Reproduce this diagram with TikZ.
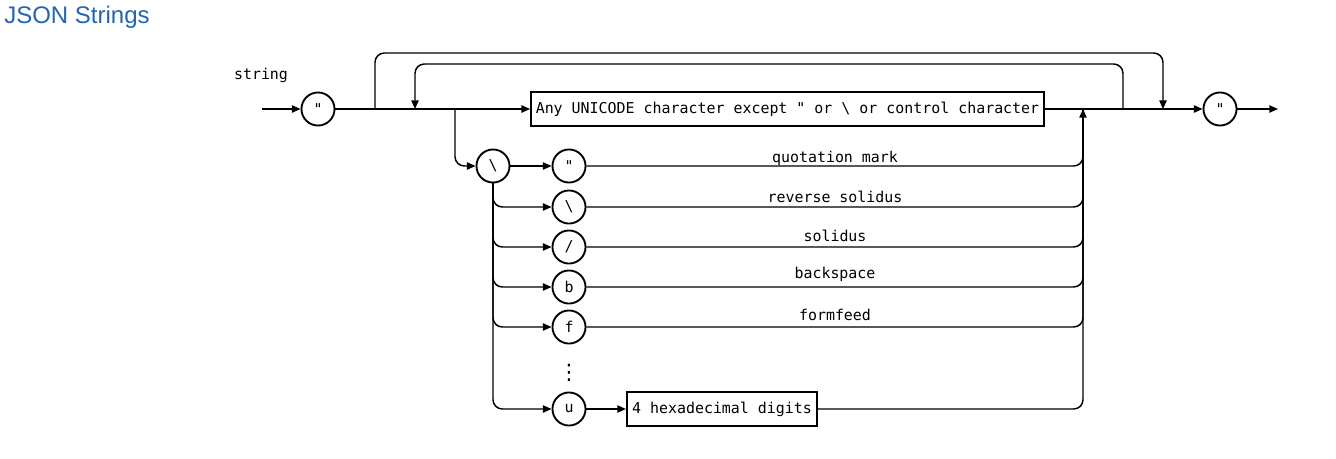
\documentclass[tikz,border=0pt]{standalone}
\usepackage{fontspec}
\setmainfont{Liberation Sans}
\setmonofont{DejaVu Sans Mono}
\newfontfamily\symfont{DejaVu Sans}
\usetikzlibrary{arrows.meta}
\definecolor{titleblue}{RGB}{35,100,180}
\begin{document}
\begin{tikzpicture}[x=0.75pt,y=-0.75pt,
  every node/.style={font=\ttfamily\fontsize{11.2}{13}\selectfont},
  conn/.style={line width=1.1pt},
  arr/.style={conn,-{Triangle[length=6.5pt,width=5.5pt]}},
  rc/.style={rounded corners=7pt},
  term/.style={circle,draw,line width=1.4pt,minimum size=24.8pt,inner sep=0pt},
  nterm/.style={rectangle,draw,line width=1.6pt,minimum height=25.5pt,inner sep=0pt},
  lbl/.style={anchor=south,inner sep=1pt}]
\useasboundingbox (0,0) rectangle (1336,458);
% title
\node[anchor=west,inner sep=0pt,font=\fontsize{18}{20}\selectfont,text=titleblue] (title) at (4,17) {JSON Strings};
\node (name) at (261,75) {string};
% main row
\coordinate (start) at (262,109);
\node[term] (q1) at (318,109) {"};
\node[nterm,minimum width=384.5pt] (any) at (787.5,109) {Any UNICODE character except " or \textbackslash{} or control character};
\node[term] (q2) at (1220,109) {"};
\coordinate (stop) at (1278,109);
% junctions
\coordinate (jA) at (375,109);
\coordinate (topA) at (769,53);
\coordinate (jA2) at (1163,109);
\coordinate (jB) at (1123,109);
\coordinate (topB) at (769,64);
\coordinate (jB2) at (415,109);
\coordinate (jC) at (455,109);
\coordinate (jD) at (1083,109);
% escape row
\node[term] (bs) at (493,166) {\textbackslash};
\node[term] (e1) at (569,166) {"};
\node[term] (e2) at (569,207) {\textbackslash};
\node[term] (e3) at (569,247) {/};
\node[term] (e4) at (569,287) {b};
\node[term] (e5) at (569,327) {f};
\node[font=\symfont\fontsize{16}{17}\selectfont,inner sep=0pt] (dots) at (569,373) {⋮};
\node[term] (e6) at (569,409) {u};
\node[nterm,minimum width=142.5pt] (hex) at (722,409) {4 hexadecimal digits};
% labels
\node[lbl] (l1) at (835,167) {quotation mark};
\node[lbl] (l2) at (835,204) {reverse solidus};
\node[lbl] (l3) at (835,243) {solidus};
\node[lbl] (l4) at (835,283) {backspace};
\node[lbl] (l5) at (835,322) {formfeed};
% connectors main
\draw[arr] (start) -- (q1.west);
\draw[arr] (q1.east) -- (any.west);
\draw[conn] (any.east) -- (jB);
\draw[arr] (jB) -- (q2.west);
\draw[arr] (q2.east) -- (stop);
\draw[arr,rc] (jA) |- (topA) -| (jA2);
\draw[arr,rc] (jB) |- (topB) -| (jB2);
\draw[arr,rc] (jC) |- (bs.west);
\draw[arr] (bs.east) -- (e1.west);
\draw[arr,rc] (bs.south) |- (e2.west);
\draw[arr,rc] (bs.south) |- (e3.west);
\draw[arr,rc] (bs.south) |- (e4.west);
\draw[arr,rc] (bs.south) |- (e5.west);
\draw[arr,rc] (bs.south) |- (e6.west);
\draw[arr] (e6.east) -- (hex.west);
\draw[conn,rc] (e1.east) -| (jD);
\draw[conn,rc] (e2.east) -| (jD);
\draw[conn,rc] (e3.east) -| (jD);
\draw[conn,rc] (e4.east) -| (jD);
\draw[conn,rc] (e5.east) -| (jD);
\draw[arr,rc] (hex.east) -| (jD);
\end{tikzpicture}
\end{document}
